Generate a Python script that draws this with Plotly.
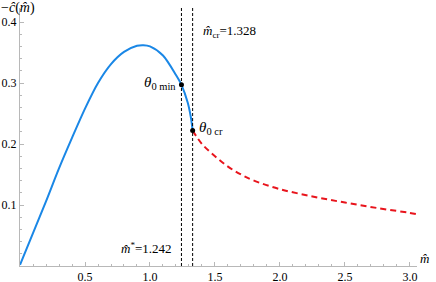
import plotly.graph_objects as go

# stable branch (blue)
m_blue = [0.0, 0.1, 0.2, 0.3, 0.4, 0.5, 0.6, 0.7, 0.8, 0.9, 0.95, 1.0, 1.1, 1.2, 1.242, 1.29, 1.315, 1.328]
c_blue = [0.002, 0.054, 0.106, 0.16, 0.21, 0.258, 0.3, 0.331, 0.351, 0.361, 0.362, 0.36, 0.345, 0.313, 0.297, 0.268, 0.243, 0.222]

# unstable branch (red dashed)
m_red = [1.328, 1.4, 1.5, 1.6, 1.7, 1.8, 2.0, 2.25, 2.5, 2.75, 3.0, 3.05]
c_red = [0.222, 0.2, 0.18, 0.163, 0.15, 0.14, 0.126, 0.114, 0.104, 0.095, 0.087, 0.085]

m_star = 1.242
m_cr = 1.328
c_theta_min = 0.297
c_theta_cr = 0.222

x_ticks = [0.5, 1.0, 1.5, 2.0, 2.5, 3.0]
y_ticks = [0.1, 0.2, 0.3, 0.4]

FONT = "Times New Roman"
AX = "#b8b8b8"

fig = go.Figure()
fig.add_trace(go.Scatter(x=m_blue, y=c_blue, mode="lines", line=dict(color="#1a87e6", width=2, shape="spline", smoothing=0.8), hoverinfo="skip"))
fig.add_trace(go.Scatter(x=m_red, y=c_red, mode="lines", line=dict(color="#e8141c", width=2, dash="6px,4px", shape="spline"), hoverinfo="skip"))
fig.add_trace(go.Scatter(x=[m_star, m_cr], y=[c_theta_min, c_theta_cr], mode="markers", marker=dict(color="black", size=5), hoverinfo="skip"))

for xv in [m_star, m_cr]:
    fig.add_shape(type="line", xref="x", yref="paper", x0=xv, x1=xv, y0=0, y1=1,
                  line=dict(color="black", width=1, dash="3px,2px"))

fig.add_annotation(x=m_cr, y=0.385, xref="x", yref="y", text="<i>m̂</i><sub>cr</sub>=1.328", showarrow=False,
                   xanchor="left", xshift=8, font=dict(family=FONT, size=13, color="black"))
fig.add_annotation(x=m_star, y=0.03, xref="x", yref="y", text="<i>m̂</i><sup>*</sup>=1.242", showarrow=False,
                   xanchor="right", xshift=-7, font=dict(family=FONT, size=13, color="black"))
fig.add_annotation(x=m_star, y=c_theta_min, xref="x", yref="y", text="<i>θ</i><sub>0 min</sub>", showarrow=False,
                   xanchor="right", xshift=-3, yshift=2, font=dict(family=FONT, size=15, color="black"))
fig.add_annotation(x=m_cr, y=c_theta_cr, xref="x", yref="y", text="<i>θ</i><sub>0 cr</sub>", showarrow=False,
                   xanchor="left", xshift=4, yshift=3, font=dict(family=FONT, size=15, color="black"))
fig.add_annotation(x=0, y=1, xref="paper", yref="paper", text="−<i>ĉ</i>(<i>m̂</i>)", showarrow=False,
                   xanchor="left", yanchor="middle", xshift=-21, yshift=0, font=dict(family=FONT, size=14, color="black"))
fig.add_annotation(x=1, y=0, xref="paper", yref="paper", text="<i>m̂</i>", showarrow=False,
                   xanchor="left", yanchor="bottom", xshift=1, yshift=-2, font=dict(family=FONT, size=13, color="black"))

fig.update_layout(
    width=436, height=282,
    margin=dict(l=20, r=19, t=8, b=16),
    paper_bgcolor="white", plot_bgcolor="white",
    showlegend=False,
    font=dict(family=FONT),
    xaxis=dict(range=[0, 3.054], showgrid=False, zeroline=False, showline=True, linecolor=AX, linewidth=1,
               automargin=False,
               ticks="inside", ticklen=4, tickcolor=AX, tickvals=x_ticks, ticktext=[f"{v:.1f}" for v in x_ticks],
               tickfont=dict(family=FONT, size=12, color="black"), ticklabelstandoff=0,
               minor=dict(ticks="inside", ticklen=2, tickcolor=AX, dtick=0.1)),
    yaxis=dict(range=[0, 0.423], showgrid=False, zeroline=False, showline=True, linecolor=AX, linewidth=1,
               automargin=False,
               ticks="inside", ticklen=4, tickcolor=AX, tickvals=y_ticks, ticktext=[f"{v:.1f}" for v in y_ticks],
               tickfont=dict(family=FONT, size=12, color="black"), ticklabelstandoff=0,
               minor=dict(ticks="inside", ticklen=2, tickcolor=AX, dtick=0.02)),
)

fig.write_html("out.html", config={"displayModeBar": False, "staticPlot": True},
               post_script="document.body.style.margin='0';document.body.style.padding='0';")
